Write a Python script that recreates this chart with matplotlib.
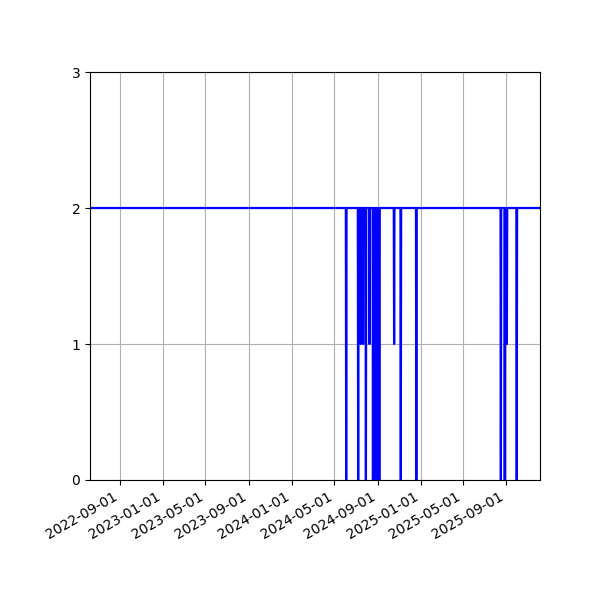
import matplotlib
matplotlib.use("Agg")
import matplotlib.pyplot as plt
import matplotlib.dates as mdates
import pandas as pd
import numpy as np

# Daily series: constant level with drops
start_date = "2022-06-08"
end_date = "2025-12-06"
base_value = 2

drop_dates = [
    "2024-06-04", "2024-07-08", "2024-07-15", "2024-07-22", "2024-07-30",
    "2024-08-09", "2024-08-19", "2024-08-21", "2024-08-23", "2024-08-25",
    "2024-08-27", "2024-08-29", "2024-08-31", "2024-09-02", "2024-09-04",
    "2024-09-06", "2024-10-18", "2024-11-06", "2024-12-20",
    "2025-08-17", "2025-08-28", "2025-09-03", "2025-10-01",
]
drop_values = [
    0, 0, 1, 1, 0,
    1, 0, 0, 0, 0,
    0, 0, 0, 0, 0,
    0, 1, 0, 0,
    0, 0, 1, 0,
]

dates = pd.date_range(start_date, end_date, freq="D")
series = pd.Series(base_value, index=dates, dtype=float)
for d, v in zip(drop_dates, drop_values):
    series[pd.Timestamp(d)] = v

fig, ax = plt.subplots(figsize=(6, 6), dpi=100)
fig.subplots_adjust(left=0.15, right=0.9, top=0.88, bottom=0.2)
ax.plot(series.index, series.values, color="blue", linewidth=1.6)

ax.set_xlim(pd.Timestamp(start_date), pd.Timestamp(end_date))
ax.set_ylim(0, 3)
ax.set_yticks([0, 1, 2, 3])
ax.xaxis.set_major_locator(mdates.MonthLocator(bymonth=[1, 5, 9]))
ax.xaxis.set_major_formatter(mdates.DateFormatter("%Y-%m-%d"))
ax.grid(True)
for lbl in ax.get_xticklabels():
    lbl.set_rotation(30)
    lbl.set_horizontalalignment("right")

fig.savefig("out.png", dpi=100)
